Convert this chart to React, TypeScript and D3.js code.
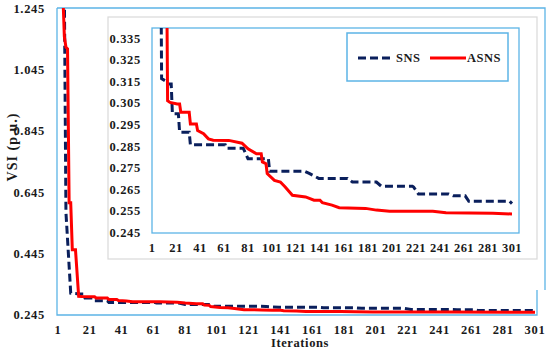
import React from "react";
import * as d3 from "d3";

const mainXTicks = [1, 21, 41, 61, 81, 101, 121, 141, 161, 181, 201, 221, 241, 261, 281, 301];
const mainYTicks = [0.245, 0.445, 0.645, 0.845, 1.045, 1.245];
const insetYTicks = [0.245, 0.255, 0.265, 0.275, 0.285, 0.295, 0.305, 0.315, 0.325, 0.335];

const snsIter = [1, 5, 6, 9, 12, 14, 17, 18, 23, 24, 32, 33, 62, 63, 77, 81, 98, 99, 128, 132, 140, 164, 168, 188, 192, 218, 219, 223, 248, 252, 262, 265, 299, 301];
const snsVal = [1.3, 1.3, 0.58, 0.3165, 0.3155, 0.314, 0.314, 0.3002, 0.3002, 0.2917, 0.2917, 0.2859, 0.2859, 0.2843, 0.2843, 0.2794, 0.2794, 0.2736, 0.2736, 0.2726, 0.2703, 0.2703, 0.2686, 0.2686, 0.2667, 0.2667, 0.2663, 0.2631, 0.2631, 0.2622, 0.2622, 0.2597, 0.2597, 0.2586];

const asnsIter = [1, 4, 5, 6, 7, 8, 9, 10, 12, 14, 16, 22, 24, 25, 32, 33, 38, 39, 44, 48, 52, 65, 76, 81, 88, 92, 93, 96, 97, 103, 108, 112, 118, 129, 136, 141, 143, 151, 157, 179, 188, 199, 235, 246, 285, 301];
const asnsVal = [1.4, 1.3, 1.155, 1.12, 1.115, 0.612, 0.612, 0.458, 0.458, 0.3063, 0.3055, 0.3048, 0.3048, 0.3009, 0.3009, 0.2955, 0.2955, 0.2925, 0.291, 0.2886, 0.288, 0.2879, 0.2866, 0.284, 0.2817, 0.2817, 0.2779, 0.2771, 0.2725, 0.2694, 0.2686, 0.2663, 0.2625, 0.2617, 0.2602, 0.2602, 0.259, 0.2579, 0.2567, 0.2564, 0.2556, 0.2551, 0.2551, 0.2544, 0.2541, 0.2538];

const seriesNames = ["SNS", "ASNS"];

const NAVY = "#0a1f5c";
const RED = "#ff0000";
const BLUE = "#5cb4e6";
const FONT = "'Liberation Serif', 'Times New Roman', serif";

type Pt = [number, number];
const snsPts: Pt[] = snsIter.map((d, i) => [d, snsVal[i]]);
const asnsPts: Pt[] = asnsIter.map((d, i) => [d, asnsVal[i]]);

export default function App() {
  // main chart
  const mx = d3.scaleLinear().domain([1, 301]).range([58, 535]);
  const my = d3.scaleLinear().domain([0.245, 1.245]).range([315, 9]);
  const mainLeft = 57, mainRight = 537, mainTop = 8, mainBottom = 315;
  const mainLine = d3.line<Pt>().x((d) => mx(d[0])).y((d) => my(d[1]));

  // inset chart
  const ix = d3.scaleLinear().domain([1, 301]).range([152, 512]);
  const iy = d3.scaleLinear().domain([0.245, 0.34]).range([233, 27.9]);
  const inL = 152, inR = 519, inT = 28, inB = 233;
  const inLine = d3.line<Pt>().x((d) => ix(d[0])).y((d) => iy(d[1]));

  const tickStyle: React.CSSProperties = {
    fontFamily: FONT,
    fontWeight: "bold",
    fontSize: 12.5,
    letterSpacing: 0.7,
    fill: "#1a1a1a",
  };

  return (
    <svg
      width={550}
      height={353}
      style={{ position: "absolute", left: 0, top: 0, background: "#fff" }}
    >
      <defs>
        <clipPath id="mainClip">
          <rect x={mainLeft} y={mainTop} width={mainRight - mainLeft} height={mainBottom - mainTop} />
        </clipPath>
        <clipPath id="inClip">
          <rect x={inL} y={inT} width={inR - inL} height={inB - inT} />
        </clipPath>
      </defs>
      <rect x={0} y={0} width={550} height={353} fill="#fff" />

      {/* main plot area border */}
      <path
        d={`M${mainLeft},${mainTop} L545,${mainTop} L545,290 M${mainRight},290 L${mainRight},${mainBottom} L${mainLeft},${mainBottom} L${mainLeft},${mainTop}`}
        fill="none"
        stroke={BLUE}
        strokeWidth={1.3}
      />
      <g clipPath="url(#mainClip)">
        <path d={mainLine(snsPts) || ""} fill="none" stroke={NAVY} strokeWidth={3} strokeDasharray="8,4" />
        <path d={mainLine(asnsPts) || ""} fill="none" stroke={RED} strokeWidth={3} />
      </g>
      {mainYTicks.map((t) => (
        <text key={"my" + t} x={45} y={my(t) + 4} textAnchor="end" style={tickStyle}>
          {t.toFixed(3)}
        </text>
      ))}
      {mainXTicks.map((t) => (
        <text key={"mx" + t} x={mx(t)} y={334} textAnchor="middle" style={tickStyle}>
          {t}
        </text>
      ))}
      <text x={300} y={347} textAnchor="middle" style={{ ...tickStyle, fontSize: 12.5, letterSpacing: 0.6 }}>
        Iterations
      </text>
      <text
        transform={`translate(17,147) rotate(-90)`}
        textAnchor="middle"
        style={{ ...tickStyle, fontSize: 14, letterSpacing: 1 }}
      >
        VSI (p.u.)
      </text>

      {/* inset */}
      <rect x={108} y={17} width={429} height={242} fill="#fff" stroke="#d9d9d9" strokeWidth={1.2} />
      <rect x={inL} y={inT} width={inR - inL} height={inB - inT} fill="none" stroke={BLUE} strokeWidth={1.3} />
      <g clipPath="url(#inClip)">
        <path d={inLine(snsPts) || ""} fill="none" stroke={NAVY} strokeWidth={3} strokeDasharray="8,4" />
        <path d={inLine(asnsPts) || ""} fill="none" stroke={RED} strokeWidth={3} />
      </g>
      {insetYTicks.map((t) => (
        <text key={"iy" + t} x={141} y={iy(t) + 4} textAnchor="end" style={tickStyle}>
          {t.toFixed(3)}
        </text>
      ))}
      {mainXTicks.map((t) => (
        <text key={"ix" + t} x={ix(t)} y={252} textAnchor="middle" style={{ ...tickStyle, letterSpacing: 0.4 }}>
          {t}
        </text>
      ))}

      {/* legend */}
      <rect x={347} y={33} width={161} height={48} fill="#fff" stroke={BLUE} strokeWidth={1.5} />
      <line x1={358} x2={390} y1={58} y2={58} stroke={NAVY} strokeWidth={3} strokeDasharray="8,4" />
      <text x={396} y={62} style={{ ...tickStyle, fontSize: 12.5, letterSpacing: 0.5 }}>{seriesNames[0]}</text>
      <line x1={430} x2={466} y1={58} y2={58} stroke={RED} strokeWidth={3} />
      <text x={467} y={62} style={{ ...tickStyle, fontSize: 12.5, letterSpacing: 0.5 }}>{seriesNames[1]}</text>
    </svg>
  );
}
